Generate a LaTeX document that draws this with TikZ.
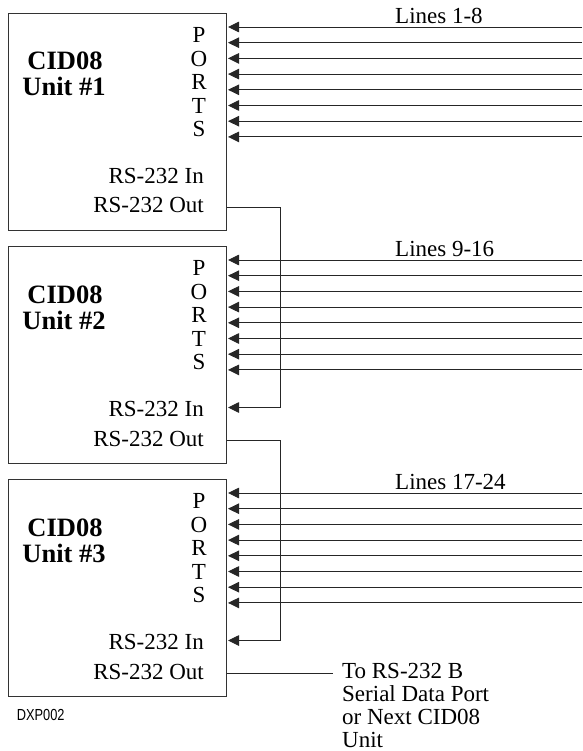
\documentclass[tikz,border=0pt]{standalone}
\usepackage{fontspec}
\setmainfont{Liberation Serif}
\newfontfamily\narrowsans[FakeStretch=0.8]{Liberation Sans}
\usetikzlibrary{arrows.meta,calc}
\begin{document}
\begin{tikzpicture}[x=1pt,y=-1pt,
  unitbox/.style={draw=black!80, line width=1pt, minimum width=218pt, minimum height=217pt, anchor=north west, inner sep=0pt},
  wire/.style={draw=black!85, line width=0.9pt},
  inarrow/.style={wire, -{Triangle[length=11pt,width=10.5pt]}},
  lbl/.style={font=\fontsize{23}{23}\selectfont, inner sep=0pt},
  ttl/.style={font=\fontsize{26.5}{26.5}\selectfont\bfseries, inner sep=0pt, anchor=base},
]
\useasboundingbox (0,0) rectangle (582,751);

\foreach \u/\t/\lines in {1/13/{Lines 1-8}, 2/246/{Lines 9-16}, 3/479/{Lines 17-24}} {
  \node[unitbox] (u\u) at (8,\t) {};
  \node[ttl] (cid\u) at (65,\t+57) {CID08};
  \node[ttl] (unit\u) at (64,\t+83) {Unit \#\u};
  \node[lbl, anchor=base west] (lines\u) at (395,\t+10.3) {\lines};
  \foreach \L [count=\i from 0] in {P,O,R,T,S} {
    \node[lbl, anchor=base] (port\u\i) at (199,\t+29.6+23.5*\i) {\L};
  }
  \foreach \k in {0,...,7} {
    \coordinate (src\u\k) at (582,\t+14+15.7*\k);
    \coordinate (dst\u\k) at ($(u\u.north east)+(1,14+15.7*\k)$);
    \draw[inarrow] (src\u\k) -- (dst\u\k);
  }
  \node[lbl, anchor=base east] (rsin\u) at (204,\t+170.3) {RS-232 In};
  \node[lbl, anchor=base east] (rsout\u) at (204,\t+200) {RS-232 Out};
  \coordinate (in\u) at ($(u\u.north east)+(1,161.5)$);
  \coordinate (out\u) at ($(u\u.north east)+(0,194)$);
}

\coordinate (bus) at (280,0);
\draw[inarrow] (out1) -- (out1 -| bus) |- (in2);
\draw[inarrow] (out2) -- (out2 -| bus) |- (in3);

\coordinate (toend) at (333,0);
\draw[wire] (out3) -- (out3 -| toend);
\node[lbl, anchor=base west] (to1) at (342,678.6) {To RS-232 B};
\node[lbl, anchor=base west] (to2) at (342,701.4) {Serial Data Port};
\node[lbl, anchor=base west] (to3) at (342,724.2) {or Next CID08};
\node[lbl, anchor=base west] (to4) at (342,747) {Unit};

\node[font=\narrowsans\fontsize{16}{16}\selectfont, inner sep=0pt, anchor=base west] (dxp) at (16.7,720) {DXP002};
\end{tikzpicture}
\end{document}
